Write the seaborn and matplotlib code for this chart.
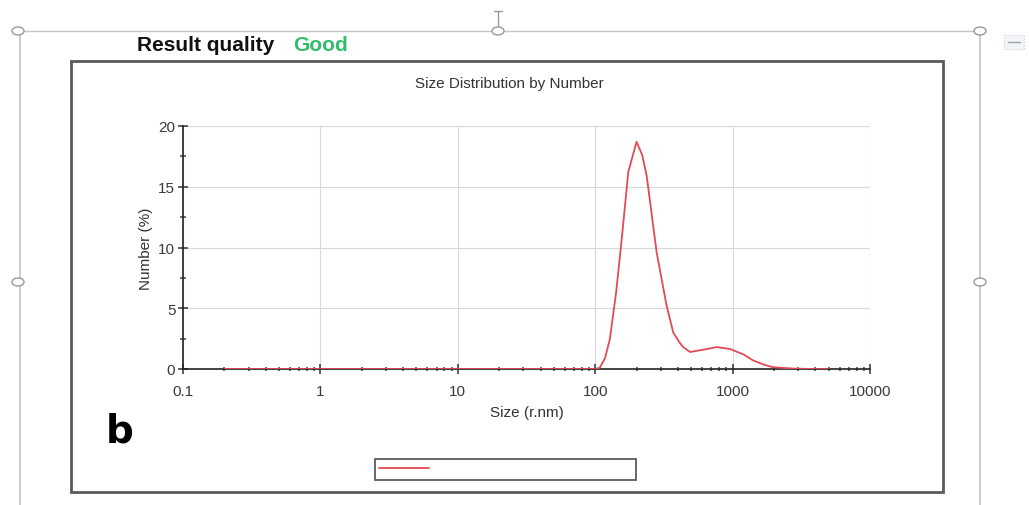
import numpy as np
import pandas as pd
import matplotlib
matplotlib.use("Agg")
import matplotlib.pyplot as plt
import seaborn as sns
from matplotlib.patches import Rectangle, Ellipse
from matplotlib.lines import Line2D
from matplotlib.ticker import FixedLocator, NullFormatter

# ---- data ----
size_nm = [0.2, 0.5, 1, 2, 5, 10, 20, 50, 100, 108, 118, 128, 142, 156, 174, 200, 220, 237,
           280, 331, 370, 410, 437, 490, 620, 765, 955, 1200, 1413, 1700, 1960, 2800, 4000, 5000]
number_pct = [0, 0, 0, 0, 0, 0, 0, 0, 0, 0.1, 0.9, 2.5, 6.3, 10.7, 16.2, 18.7, 17.6, 15.9,
              9.6, 5.2, 3.0, 2.2, 1.8, 1.4, 1.6, 1.8, 1.65, 1.2, 0.7, 0.35, 0.15, 0.03, 0, 0]
x_ticks = [0.1, 1, 10, 100, 1000, 10000]
x_tick_labels = ["0.1", "1", "10", "100", "1000", "10000"]
y_ticks = [0, 5, 10, 15, 20]
y_tick_labels = ["0", "5", "10", "15", "20"]

df = pd.DataFrame({"size": size_nm, "number": number_pct})

sns.set_style("white")
plt.rcParams["font.family"] = ["Liberation Sans", "DejaVu Sans"]

W, H = 1029, 506
fig = plt.figure(figsize=(W / 100, H / 100), dpi=100)

# overlay in pixel coordinates for page decorations
ov = fig.add_axes([0, 0, 1, 1])
ov.set_xlim(0, W)
ov.set_ylim(H, 0)
ov.axis("off")
fc = "#c4c4c4"
ov.add_line(Line2D([18, 980], [32, 32], color=fc, lw=1))
ov.add_line(Line2D([20, 20], [32, 506], color=fc, lw=1.2))
ov.add_line(Line2D([980, 980], [32, 506], color=fc, lw=1.2))
for (cx, cy) in [(18, 32), (498, 32), (980, 32), (18, 283), (980, 283)]:
    ov.add_patch(Ellipse((cx, cy), 12, 8, facecolor="white", edgecolor="#999999", lw=1, zorder=3))
ov.add_line(Line2D([498, 498], [12, 28], color="#999999", lw=1))
ov.add_line(Line2D([494, 502], [12, 12], color="#999999", lw=1))
ov.add_patch(Rectangle((1004, 36), 20, 14, facecolor="#f2f4f8", edgecolor="#c8d0dc", lw=0.8, ls=":"))
ov.add_line(Line2D([1008, 1020], [43, 43], color="#9aa4b4", lw=1))
# inner chart frame
ov.add_patch(Rectangle((71, 62), 872, 431, facecolor="white", edgecolor="#5a5a5a", lw=2))
ov.text(137, 45, "Result quality", fontsize=15, fontweight="bold", color="#111111", va="center", ha="left")
ov.text(293, 45, "Good", fontsize=15, fontweight="bold", color="#2fbf6a", va="center", ha="left")
ov.text(509, 84, "Size Distribution by Number", fontsize=11, color="#333333", va="center", ha="center")
ov.text(106, 443, "b", fontsize=28, fontweight="heavy", color="black", va="baseline", ha="left",
        family=["DejaVu Sans"])

# main axes
ax = fig.add_axes([183 / W, 1 - 370 / H, (870 - 183) / W, (370 - 127) / H])
ax.set_facecolor("none")
sns.lineplot(data=df, x="size", y="number", ax=ax, color="#e24a55", lw=1.3, zorder=3)
ax.set_xscale("log")
ax.set_xlim(0.1, 10000)
ax.set_ylim(0, 20)
ax.set_xticks(x_ticks)
ax.set_xticklabels(x_tick_labels)
ax.set_yticks(y_ticks)
ax.set_yticklabels(y_tick_labels)
minor_x = [m * d for d in [0.1, 1, 10, 100, 1000] for m in range(2, 10)]
ax.xaxis.set_minor_locator(FixedLocator(minor_x))
ax.xaxis.set_minor_formatter(NullFormatter())
ax.yaxis.set_minor_locator(FixedLocator([2.5, 7.5, 12.5, 17.5]))
ax.yaxis.set_minor_formatter(NullFormatter())
ax.tick_params(axis="both", which="both", bottom=True, left=True, top=False, right=False)
ax.tick_params(axis="both", which="major", direction="inout", length=7, width=1.1,
               color="#333333", labelcolor="#3a3a3a", labelsize=11)
ax.tick_params(axis="x", which="major", pad=7)
ax.tick_params(axis="y", which="major", pad=2)
ax.tick_params(axis="x", which="minor", direction="inout", length=3, width=1.2, color="#555555")
ax.tick_params(axis="y", which="minor", direction="inout", length=5, width=1.1, color="#444444")
ax.grid(True, which="major", color="#d9d9d9", lw=0.8)
ax.axvline(10000, color="#d9d9d9", lw=0.8, zorder=0)
ax.axhline(20, color="#d9d9d9", lw=0.8, zorder=0)
for s in ["top", "right"]:
    ax.spines[s].set_visible(False)
for s in ["left", "bottom"]:
    ax.spines[s].set_color("#222222")
    ax.spines[s].set_linewidth(1.2)
ax.set_xlabel("Size (r.nm)", fontsize=11, color="#333333", labelpad=5)
ax.set_ylabel("Number (%)", fontsize=11, color="#333333", labelpad=4)

leg_line = Line2D([], [], color="#e24a55", lw=1.3)
ax.legend([leg_line], [""], loc="lower left", mode="expand",
          bbox_to_anchor=(375 / W, 1 - 481 / H, 261 / W, 22 / H),
          bbox_transform=fig.transFigure, borderaxespad=0, handlelength=4.0,
          borderpad=0.35, handletextpad=0.2, fontsize=9, frameon=True, fancybox=False)
lg = ax.get_legend()
lg.get_frame().set_edgecolor("#333333")
lg.get_frame().set_linewidth(1.3)

fig.savefig("out.png", dpi=100)
